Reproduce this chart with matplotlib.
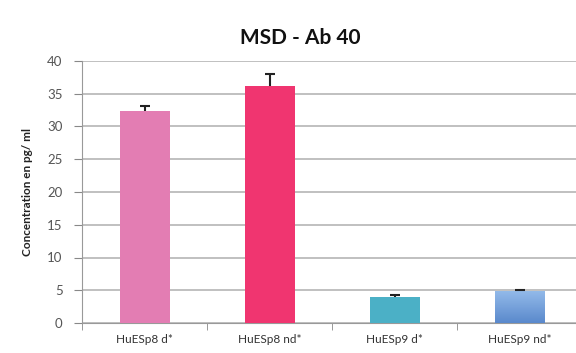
import matplotlib
matplotlib.use("Agg")
import matplotlib.pyplot as plt
import numpy as np
from matplotlib.colors import LinearSegmentedColormap

categories = ["HuESp8 d*", "HuESp8 nd*", "HuESp9 d*", "HuESp9 nd*"]
values = [32.3, 36.2, 4.0, 4.9]
errors = [0.9, 1.8, 0.3, 0.2]
colors = ["#E37DB3", "#F03570", "#4BB0C6", "#6E9EDA"]
yticks = [0, 5, 10, 15, 20, 25, 30, 35, 40]

plt.rcParams['font.family'] = ['Lato', 'DejaVu Sans']

fig = plt.figure(figsize=(5.76, 3.53), dpi=100)
ax = fig.add_axes([82/576, 30/353, 500/576, 262/353])

x = np.arange(len(categories))
bars = ax.bar(x, values, width=0.4, color=colors, zorder=3)
eb = ax.errorbar(x, values, yerr=[np.zeros(len(errors)), errors], fmt='none',
                 ecolor='#222222', elinewidth=1.5, capsize=3.5, capthick=1.5, zorder=4)
eb[1][0].set_visible(False)

# gradient on last bar
b = bars[3]
grad = np.linspace(0, 1, 100).reshape(-1, 1)
cmap = LinearSegmentedColormap.from_list("g", ["#5A89CC", "#94BBEA"])
im = ax.imshow(grad, cmap=cmap, aspect='auto', origin='lower',
               extent=[b.get_x(), b.get_x() + b.get_width(), 0, b.get_height()], zorder=3.5)
im.set_clip_path(b)

ax.set_xlim(-0.5, len(categories) - 0.5)
ax.set_ylim(0, 40)
ax.set_yticks(yticks)
ax.set_yticklabels([str(t) for t in yticks], fontsize=9.5, color='#555555')
ax.set_xticks(x)
ax.set_xticklabels(categories, fontsize=8.5, color='#333333')
ax.set_xticks(np.arange(len(categories) + 1) - 0.5, minor=True)
ax.tick_params(axis='x', which='major', length=0, pad=8)
ax.tick_params(axis='x', which='minor', length=5, color='#888888', direction='out')
ax.tick_params(axis='y', length=6, color='#888888', direction='out', pad=8)

ax.yaxis.grid(True, color='#B5B5B5', linewidth=1.2, zorder=0)
ax.set_axisbelow(True)
for s in ['top', 'right']:
    ax.spines[s].set_visible(False)
ax.spines['left'].set_color('#999999')
ax.spines['bottom'].set_color('#999999')

ax.set_ylabel("Concentration en pg/ ml", fontsize=8.5, fontweight='bold', color='#222222', labelpad=10)
fig.text(300/576, 1 - 38/353, "MSD - Ab 40", ha='center', va='center', fontsize=15, fontweight='bold', color='#111111')

fig.savefig("out.png", dpi=100)
